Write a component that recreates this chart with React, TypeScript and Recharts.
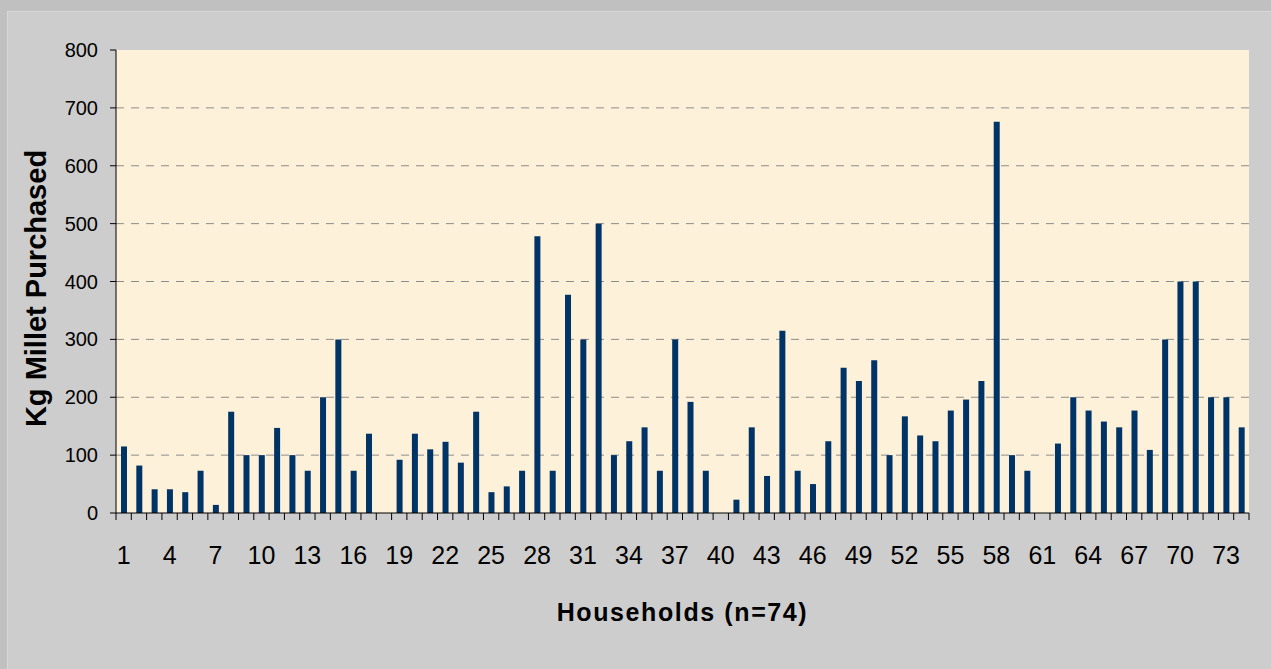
import { BarChart, Bar, XAxis, YAxis, CartesianGrid, Label } from "recharts";

// households 1..74
const households = Array.from({ length: 74 }, (_, i) => String(i + 1));

// kg of millet purchased
const kgPurchased = [
  115, 82, 41, 41, 36, 73, 14, 175, 100, 100,
  147, 100, 73, 200, 300, 73, 137, 0, 92, 137,
  110, 123, 87, 175, 36, 46, 73, 478, 73, 377,
  300, 500, 100, 124, 148, 73, 300, 192, 73, 0,
  23, 148, 64, 315, 73, 50, 124, 251, 228, 264,
  100, 167, 134, 124, 177, 196, 228, 676, 100, 73,
  0, 120, 200, 177, 158, 148, 177, 109, 300, 400,
  400, 200, 200, 148,
];

const yTicks = [0, 100, 200, 300, 400, 500, 600, 700, 800];

const data = households.map((h, i) => ({ name: h, kg: kgPurchased[i] }));

const W = 1271;
const H = 669;
const M = { top: 50, right: 22, left: 56, bottom: 0 };
const Y_AXIS_W = 60;
const band = (W - M.left - Y_AXIS_W - M.right) / households.length;
const FONT = "'Liberation Sans', Arial, sans-serif";

function HouseholdTick(props: any) {
  const { x, y, payload, index } = props;
  const last = index === households.length - 1;
  return (
    <g>
      <line x1={x - band / 2} x2={x - band / 2} y1={y} y2={y + 7} stroke="#000" />
      {last && <line x1={x + band / 2} x2={x + band / 2} y1={y} y2={y + 7} stroke="#000" />}
      {index % 3 === 0 && (
        <text x={x} y={y + 51} textAnchor="middle" fontSize={25} fontFamily={FONT} fill="#000">
          {payload.value}
        </text>
      )}
    </g>
  );
}

export default function App() {
  return (
    <div style={{ position: "absolute", left: 0, top: 0, width: W, height: H, background: "#c0c0c0" }}>
      <div
        style={{
          position: "absolute",
          left: 7,
          top: 11,
          right: 0,
          bottom: 0,
          background: "#cdcdcd",
          borderLeft: "1px solid #d8d8d8",
          borderTop: "1px solid #d8d8d8",
        }}
      />
      <BarChart
        width={W}
        height={H}
        data={data}
        margin={M}
        barCategoryGap={0}
        style={{ position: "absolute", left: 0, top: 0 }}
      >
        <CartesianGrid
          vertical={false}
          fill="#fdf1d9"
          fillOpacity={1}
          stroke="#8c8c8c"
          strokeDasharray="8 7"
          horizontalValues={[100, 200, 300, 400, 500, 600, 700]}
        />
        <XAxis
          dataKey="name"
          interval={0}
          height={156}
          tickSize={0}
          tickMargin={0}
          tickLine={false}
          axisLine={{ stroke: "#000" }}
          tick={<HouseholdTick />}
        >
          <Label
            content={({ viewBox }: any) => (
              <text
                x={viewBox.x + viewBox.width / 2}
                y={viewBox.y + 108}
                textAnchor="middle"
                fontSize={25}
                fontWeight="bold"
                letterSpacing={1.6}
                fontFamily={FONT}
                fill="#000"
              >
                Households (n=74)
              </text>
            )}
          />
        </XAxis>
        <YAxis
          width={Y_AXIS_W}
          domain={[0, 800]}
          ticks={yTicks}
          interval={0}
          tickSize={6}
          tickMargin={12}
          axisLine={{ stroke: "#000" }}
          tickLine={{ stroke: "#000" }}
          tick={{ fill: "#000", fontSize: 20, fontFamily: FONT }}
        >
          <Label
            content={({ viewBox }: any) => {
              const cx = viewBox.x - 20;
              const cy = viewBox.y + viewBox.height / 2 + 7;
              return (
                <text
                  x={cx}
                  y={cy}
                  transform={`rotate(-90 ${cx} ${cy})`}
                  textAnchor="middle"
                  dominantBaseline="central"
                  fontSize={29}
                  fontWeight="bold"
                  fontFamily={FONT}
                  fill="#000"
                >
                  Kg Millet Purchased
                </text>
              );
            }}
          />
        </YAxis>
        <Bar dataKey="kg" fill="#003366" barSize={6} isAnimationActive={false} />
      </BarChart>
    </div>
  );
}
